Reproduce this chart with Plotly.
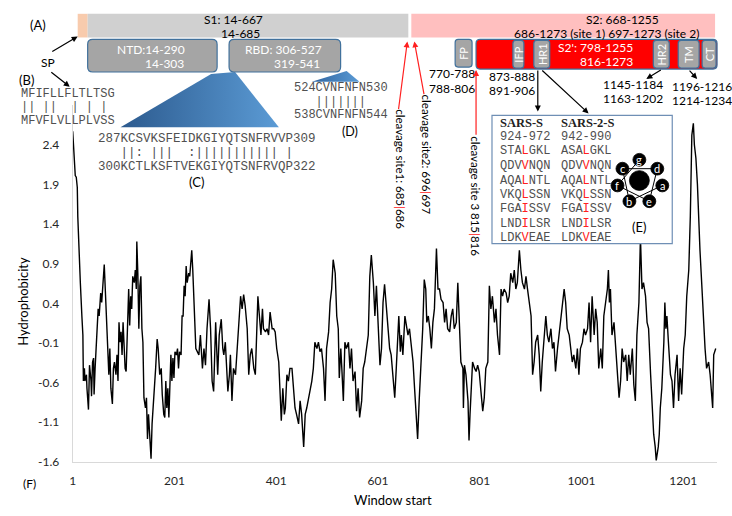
import plotly.graph_objects as go

# ---------------- data ----------------
window_start = [
    1, 4, 6, 8, 10, 11, 14, 16, 19, 21, 22, 24, 25, 28, 29, 32, 34, 37, 38, 40, 42, 43, 45, 47, 49,
    51, 53, 55, 56, 58, 60, 63, 65, 67, 70, 72, 74, 76, 79, 81, 83, 86, 88, 90, 92, 94, 96, 98, 100,
    102, 104, 106, 109, 111, 113, 115, 117, 119, 122, 124, 126, 127, 129, 131, 133, 135, 137, 139,
    141, 144, 146, 148, 150, 152, 155, 157, 160, 162, 164, 167, 169, 172, 175, 177, 180, 182, 184,
    186, 188, 190, 192, 194, 196, 198, 200, 202, 205, 207, 209, 211, 214, 216, 218, 220, 222, 224,
    226, 229, 231, 233, 235, 237, 239, 241, 243,
    249, 252, 256, 259, 262, 265, 269, 272, 275, 278, 282, 284, 286, 289, 291, 293, 296, 298, 301,
    304, 306, 309, 311, 314, 317, 321, 324, 327, 331, 334, 337, 340, 344, 347, 350, 353, 357, 360,
    363, 365, 368, 371, 374, 376, 380, 383, 386, 389, 393, 396, 399, 402, 406, 409, 411, 414, 417,
    419, 422, 425, 428, 432, 435, 438, 441, 445, 448, 451, 455, 458, 461, 464, 468, 471, 474, 477,
    481, 484, 487, 490, 494, 497, 500,
    504, 507, 510, 513, 517, 520, 523, 525, 528, 530, 533, 536, 539, 543, 546, 549, 552, 556, 559,
    562, 565, 569, 572, 575, 579, 582, 585, 588, 592, 595, 598, 601, 605, 608, 611, 614, 618, 621,
    624, 627, 631, 634, 637, 641, 642, 645, 647, 650, 654, 657, 660, 663, 667, 670, 673, 676, 679,
    682, 684, 687, 689, 692, 695, 697, 700, 703, 706, 709, 712, 716, 719, 722, 725, 729, 732, 735,
    738, 742, 745, 748, 751, 755,
    758, 761, 764, 768, 769, 771, 774, 778, 780, 782, 784, 787, 791, 794, 797, 800, 804, 807, 810,
    813, 817, 820, 823, 826, 830, 833, 836, 840, 843, 846, 849, 853, 856, 859, 862, 866, 869, 872,
    875, 879, 882, 885, 889, 892, 895, 898, 902, 905, 908, 911, 915, 918, 921, 924, 928, 931, 934,
    937, 941, 944, 947, 950, 954, 957, 960, 964, 967, 970, 973, 977, 980, 983, 986, 990, 993, 996,
    999, 1003, 1006, 1009,
    1013, 1016, 1019, 1022, 1026, 1029, 1032, 1035, 1039, 1042, 1045, 1048, 1052, 1054, 1056, 1058,
    1061, 1065, 1068, 1071, 1075, 1078, 1081, 1084, 1088, 1091, 1094, 1097, 1101, 1104, 1107, 1110,
    1114, 1117, 1120, 1123, 1127, 1130, 1133, 1137, 1140, 1143, 1146, 1148, 1152, 1154, 1156, 1159,
    1163, 1165, 1167, 1169, 1172, 1176, 1179, 1182, 1185, 1189, 1192, 1195, 1198, 1202, 1205, 1208,
    1212, 1215, 1218, 1221, 1223, 1226, 1229, 1231, 1234, 1238, 1241, 1244, 1247, 1251, 1254, 1256,
    1259, 1261, 1265,
]
hydrophobicity = [
    2.57, 2.15, 2.01, 1.99, 1.86, 1.49, 0.85, 0.66, 0.24, 0.00, -0.58, -0.42, -0.58, -0.50, -0.67,
    -0.94, -0.38, -0.58, -0.77, -0.34, -0.29, -0.75, -0.42, -0.19, 0.08,
    0.33, 0.24, 0.37, 0.53, 0.41, 0.58, 0.89, 0.58, 0.24, -0.38, -0.50, -0.17, -0.67, -0.87, -0.42,
    -0.34, -0.50, -0.25, -0.58, 0.16, -0.09, 0.04, -0.25, 0.16,
    -0.13, -0.42, -0.46, 0.24, 0.58, 0.12, 0.49, 0.33, 0.74, 0.66, 0.82, 0.58, 1.18, 0.78, 0.08,
    0.62, 0.74, 0.08, -0.09,
    -0.79, -0.92, -0.79, -1.31, -1.00, -1.21, -1.56, -1.12, -0.87, -0.67, -0.42, -0.05, -0.17,
    -0.50, -0.42, -0.75, -1.00, -1.04, -0.58,
    -0.92, -0.67, -1.04, -0.42, -0.25, -0.58, -0.29, -0.54, -0.21, -0.25, -0.17, -0.42, -0.21,
    -0.25, 0.24, 0.24, 0.62, 0.49, 0.87,
    0.66, 0.78, 0.74, 0.95, 1.07, 0.82, 0.49, 0.16, -0.17,
    -0.25, 0.00, -0.42, -0.17, -0.38, 0.08, 0.45, 0.08, -0.58, -0.71, 0.16, -0.09, -0.50, 0.00,
    0.08, 0.20, -0.17, -0.25, -0.09,
    -0.42, -0.71, -0.50, -0.25, -0.83, -0.42, -0.50, -0.17, 0.08, 0.49, 0.33, 0.51, 0.37, 0.08,
    -0.50, -0.25, -0.17, -0.42, -0.50,
    0.08, 0.49, 0.24, 0.00, 0.33, 0.08, 0.04, 0.08, 0.00, 0.29, 0.08, 0.08, 0.04, -0.17, -0.34,
    -0.79, -1.08, -0.67, -1.00,
    -0.92, -0.50, -0.58, -0.42, -0.42, -0.67, -0.92, -1.00, -1.12, -0.83, -1.00, -1.41, -1.00,
    -0.92, -0.83, -0.67, -0.58, -0.42, -0.09,
    -0.17, -0.09, -0.21, -0.17, -0.42, -0.83, -0.17,
    0.04, 0.41, 0.58, 0.95, 0.78, 0.24, 0.08, -0.54, -0.17, -0.42, -0.83, -0.09, -0.17, -0.09,
    -0.42, -0.17, -0.58, -0.46, -0.96,
    -0.67, -1.04, -0.83, -0.42, -0.34, -0.17, 0.00, 0.74, 1.01, 0.66, 0.24, 0.62, 0.08, -0.38,
    -0.17, 0.41, 0.64, 0.33, 0.08,
    -0.17, -0.25, -0.58, -0.79, -0.42, 0.04, 0.24, -0.21, 0.00, -0.25, 0.24, 0.12, 0.00, 0.08,
    -0.17, -0.34, -0.67, -1.00, -1.31,
    -0.83, -0.58, -0.17, 0.08, 0.70, 0.58, 0.16, 0.24, 0.08, -0.17, 0.16, 0.33, 1.09, 0.58, 0.58,
    0.45, 0.41, 0.16, 0.33,
    0.08, 0.04, 0.24, 0.33, 0.08, 0.16,
    0.66, 0.16, -0.34, -0.42, -0.92, -0.38, -0.50, -0.83, -1.33, -1.00, -0.79, -0.34, -0.42, -0.46,
    -0.38, -0.46, -0.75, -0.96, -0.79,
    -0.42, -0.34, 0.62, 0.33, 0.49, 0.16, 0.33, 0.00, -0.25, 0.58, 0.49, 0.58, 0.53, 0.41, 0.49,
    0.78, 0.66, 0.82, 0.58,
    0.66, 1.07, 0.82, 0.66, 0.58, 0.74, 0.58, 0.41, 0.24, -0.50, -0.34, -0.09, 0.00, -0.25, -0.71,
    -0.34, 0.00, 0.24, 0.00,
    -0.09, 0.08, -0.17, -0.09, -0.46, -0.17, 0.00, 0.16, 0.33, 0.58, 0.41, 0.08, 0.00, -0.17, -0.34,
    -0.25, -0.42, -0.17, -0.50,
    -0.17, -0.09, 0.08, 0.00,
    0.08, 0.41, -0.09, 0.49, 0.00, 0.33, 0.16, -0.42, -0.17, -0.42, 0.24, 0.41, 0.58, 0.82, 0.41,
    0.58,
    0.00, 0.16, -0.17, -0.42, -0.79, -0.58, -0.17, -0.34, -0.25, -0.58, -0.25, -0.50, -0.17, -0.63,
    -0.83, 0.00,
    0.41, 1.24, 0.58, 0.66, 0.49, 0.16, 0.08, -0.50, -0.92, -1.25, -1.41, -1.58, -1.41, -1.25,
    -0.92, -0.67,
    -0.09, 0.41, 0.08, 0.24, -0.09, -0.50, -0.58, -0.92, -0.50, -0.25, -0.83, -0.42, -0.75, -0.17,
    0.00, 0.49,
    0.82, 1.49, 2.52, 2.67, 2.40, 2.23, 1.90, 1.49, 1.07, 0.58, 0.16, -0.17, -0.42, -0.34, -0.50,
    -0.67,
    -0.92, -0.25, -0.17,
]
x_tick_values = [1, 201, 401, 601, 801, 1001, 1201]
y_tick_values = [-1.6, -1.1, -0.6, -0.1, 0.4, 0.9, 1.4, 1.9, 2.4]

# ---------------- figure ----------------
fig = go.Figure()
fig.add_trace(go.Scatter(x=window_start, y=hydrophobicity, mode="lines",
                         line=dict(color="black", width=1.4), hoverinfo="skip"))

# gradient wedges (C) and (D) on an overlay canvas axis (pixel-like units)
fig.add_trace(go.Scatter(x=[209, 233, 277, 118, 209], y=[75, 73, 129, 129, 75],
                         xaxis="x2", yaxis="y2", mode="lines", fill="toself",
                         line=dict(width=0, color="rgba(0,0,0,0)"),
                         fillgradient=dict(type="horizontal",
                                           colorscale=[[0, "#2c5a8e"], [1, "#5b9bd5"]]),
                         hoverinfo="skip"))
fig.add_trace(go.Scatter(x=[310, 345, 358, 310], y=[83, 72, 83, 83],
                         xaxis="x2", yaxis="y2", mode="lines", fill="toself",
                         line=dict(width=0, color="rgba(0,0,0,0)"),
                         fillgradient=dict(type="horizontal",
                                           colorscale=[[0, "#2f64a0"], [1, "#5b9bd5"]]),
                         hoverinfo="skip"))

shapes = []
ann = []
BLUE = "#41719c"


def rect(x0, y0, x1, y1, fill, line=None, lw=1):
    shapes.append(dict(type="rect", xref="x2", yref="y2", x0=x0, y0=y0, x1=x1, y1=y1,
                       fillcolor=fill, line=dict(color=line or fill, width=lw if line else 0),
                       layer="above"))


def rrect(x0, y0, x1, y1, fill, line=BLUE, r=5, lw=1.2):
    p = (f"M{x0+r},{y0} L{x1-r},{y0} Q{x1},{y0} {x1},{y0+r} L{x1},{y1-r} Q{x1},{y1} {x1-r},{y1} "
         f"L{x0+r},{y1} Q{x0},{y1} {x0},{y1-r} L{x0},{y0+r} Q{x0},{y0} {x0+r},{y0} Z")
    shapes.append(dict(type="path", xref="x2", yref="y2", path=p, fillcolor=fill,
                       line=dict(color=line, width=lw), layer="above"))


def circle(cx, cy, r, fill="black"):
    shapes.append(dict(type="circle", xref="x2", yref="y2", x0=cx - r, x1=cx + r,
                       y0=cy - r, y1=cy + r, fillcolor=fill, line=dict(color=fill, width=0.8),
                       layer="above"))


def text(x, y, s, size=12, color="black", family="Lato", xanchor="center", angle=0):
    ann.append(dict(x=x, y=y, xref="x2", yref="y2", text=s, showarrow=False,
                    font=dict(size=size, color=color, family=family),
                    xanchor=xanchor, yanchor="middle", textangle=angle))


def arrow(x0, y0, x1, y1, color="black", w=1.2):
    ann.append(dict(x=x1, y=y1, ax=x0, ay=y0, xref="x2", yref="y2", axref="x2", ayref="y2",
                    text="", showarrow=True, arrowhead=2, arrowsize=1, arrowwidth=w,
                    arrowcolor=color))


MONO = "Liberation Mono"
NB = "\u00a0"
RED = "#ff2020"

# (A) domain bars
rect(75, 14, 85, 38, "#f8cbad")
rect(85, 14, 407, 38, "#d0d0d0")
rect(410, 14, 715, 38, "#ffbfbf")
text(35, 25, "(A)", 13)
text(231, 20, "S1: 14-667")
text(238, 34, "14-685")
text(622, 20, "S2: 668-1255")
text(606, 34, "686-1273 (site 1) 697-1273 (site 2)")

rrect(85, 40, 215, 73, "#a5a5a5")
rrect(227, 40, 339, 73, "#a5a5a5")
text(149, 50, "NTD:14-290", 12, "white")
text(162, 64, "14-303", 12, "white")
text(282, 50, "RBD: 306-527", 12, "white")
text(295, 64, "319-541", 12, "white")

rrect(454, 40, 471, 68, "#a5a5a5", r=3)
rrect(475, 40, 717, 70, "#ff0000", r=4)
for (a, b, lab) in [(512, 523, "IFP"), (533, 549, "HR1"), (653, 669, "HR2"),
                    (678, 699, "TM"), (702, 716, "CT")]:
    rrect(a, 41, b, 69, "#a5a5a5", r=3)
    text((a + b) / 2, 55, lab, 11, "white", angle=-90)
text(462.5, 54, "FP", 11, "white", angle=-90)
text(595, 48, "S2': 798-1255", 12, "white")
text(606, 62, "816-1273", 12, "white")

text(451, 75, "770-788")
text(451, 90, "788-806")
text(511, 78, "873-888")
text(511, 92, "891-906")
text(633, 86, "1145-1184")
text(633, 100, "1163-1202")
text(702, 88, "1196-1216")
text(702, 102, "1214-1234")

arrow(662, 70, 646, 80)
arrow(688, 70, 697, 80)
arrow(537, 70, 537, 113)
arrow(540, 70, 588, 115)

# cleavage sites
arrow(397, 112, 406, 42, RED)
arrow(423, 97, 413, 42, RED)
arrow(475, 138, 475, 71, RED)
bar = f"<span style='color:{RED}'>|</span>"
text(399, 172, f"cleavage site1: 685{bar}686", 11.5, angle=90)
text(425, 157, f"cleavage site2: 696{bar}697", 11.5, angle=90)
text(475, 199, f"cleavage site 3 815{bar}816", 11.5, angle=90)

# SP and (B)
text(45, 63, "SP", 12)
arrow(48, 53, 75, 37)
arrow(47, 72, 67, 88)
text(24, 81, "(B)", 13)
SEQ = "#505050"
text(16, 95, "MFIFLLFLTLTSG", 12, SEQ, MONO, "left")
text(16, 108, "||" + NB + "||" + NB * 2 + "|" + NB + "|" + NB + "|", 12, SEQ, MONO, "left")
text(16, 123, "MFVFLVLLPLVSS", 12, SEQ, MONO, "left")

# (C)
text(93, 141, "287KCSVKSFEIDKGIYQTSNFRVVP309", 12.5, SEQ, MONO, "left")
text(93, 155, NB * 3 + "||:" + NB + "|||" + NB * 2 + ":" + "|" * 11 + NB + "|", 12.5, SEQ, MONO, "left")
text(93, 169, "300KCTLKSFTVEKGIYQTSNFRVQP322", 12.5, SEQ, MONO, "left")
text(194, 185, "(C)", 13)

# (D)
text(290, 89, "524CVNFNFN530", 12, SEQ, MONO, "left")
text(290, 103, NB * 3 + "|||||||", 12, SEQ, MONO, "left")
text(290, 117, "538CVNFNFN544", 12, SEQ, MONO, "left")
text(348, 133, "(D)", 12.5)

# (E) box
rect(491, 117, 672, 247, "white", "#6f8fb5", 1.2)
text(497, 125, "<b>SARS-S</b>", 12.5, "#222222", "Liberation Serif", "left")
text(558, 125, "<b>SARS-2-S</b>", 12.5, "#222222", "Liberation Serif", "left")
text(497, 139, "924-972", 12, SEQ, MONO, "left")
text(558, 139, "942-990", 12, SEQ, MONO, "left")
rows_s = ["STALGKL", "QDVVNQN", "AQALNTL", "VKQLSSN", "FGAISSV", "LNDILSR", "LDKVEAE"]
rows_s2 = ["ASALGKL", "QDVVNQN", "AQALNTL", "VKQLSSN", "FGAISSV", "LNDILSR", "LDKVEAE"]
row_y = [153, 168, 183, 198, 212, 227, 241]


def mark(s):
    return s[:3] + f"<span style='color:{RED}'>{s[3]}</span>" + s[4:]


for yy, a, b in zip(row_y, rows_s, rows_s2):
    text(497, yy, mark(a), 12, SEQ, MONO, "left")
    text(558, yy, mark(b), 12, SEQ, MONO, "left")

# helical wheel
wheel = {"a": (662, 188), "b": (629, 204), "c": (622, 171), "d": (657, 171),
         "e": (649, 204), "f": (617, 188), "g": (639, 162)}
order = "abcdefg"
path = "M" + " L".join(f"{wheel[k][0]},{wheel[k][1]}" for k in order)
shapes.append(dict(type="path", xref="x2", yref="y2", path=path,
                   line=dict(color="black", width=1), layer="above"))
circle(639, 183, 10)
for k, (cx, cy) in wheel.items():
    circle(cx, cy, 6.5)
    text(cx, cy, k, 11, "white")
text(639, 230, "(E)", 13)

# (F) and axis titles
text(27, 490, "(F)", 12)
text(20, 305, "Hydrophobicity", 13, angle=-90)
text(392, 507, "Window start", 13)

fig.update_layout(
    width=732, height=516, margin=dict(l=0, r=0, t=0, b=0),
    paper_bgcolor="white", plot_bgcolor="rgba(0,0,0,0)", showlegend=False,
    xaxis=dict(domain=[70 / 732, 717 / 732], range=[1, 1267.6], anchor="y",
               tickvals=x_tick_values, ticktext=[str(v) for v in x_tick_values],
               showline=True, linecolor="#d9d9d9", linewidth=1, showgrid=False,
               zeroline=False, ticks="", ticklabelstandoff=8,
               tickfont=dict(family="Lato", size=12, color="#262626")),
    yaxis=dict(domain=[(516 - 468.3) / 516, (516 - 106.5) / 516], range=[-1.6, 2.9],
               anchor="x", tickvals=y_tick_values,
               ticktext=[f"{v:.1f}" for v in y_tick_values],
               showline=True, linecolor="#d9d9d9", linewidth=1, showgrid=False,
               zeroline=False, ticks="", ticklabelstandoff=10,
               tickfont=dict(family="Lato", size=12, color="#262626")),
    xaxis2=dict(domain=[0, 1], range=[0, 732], visible=False, anchor="y2", fixedrange=True),
    yaxis2=dict(domain=[0, 1], range=[516, 0], visible=False, anchor="x2", fixedrange=True),
    shapes=shapes, annotations=ann,
)

fig.write_html("out.html", config={"displayModeBar": False},
               post_script="document.body.style.margin='0';document.body.style.overflow='hidden';")
